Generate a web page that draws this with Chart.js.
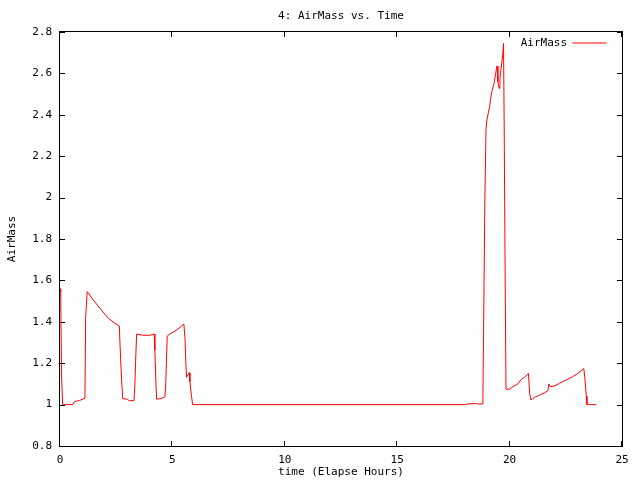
<!DOCTYPE html>
<html>
<head>
<meta charset="utf-8">
<script src="https://cdn.jsdelivr.net/npm/chart.js@4/dist/chart.umd.min.js"></script>
<style>
  html, body { margin: 0; padding: 0; background: #fff; }
  canvas { display: block; }
</style>
</head>
<body>
<canvas id="c" width="640" height="480"></canvas>
<script>
// ---- data ----
const timeHours = [
  0, 0.03, 0.07, 0.12, 0.56, 0.64, 0.86, 1.11, 1.14, 1.21, 1.30, 1.48, 1.78, 2.15, 2.44, 2.64,
  2.67, 2.74, 2.79, 2.99, 3.08, 3.29, 3.33, 3.38, 3.41, 3.67, 4.00, 4.19, 4.22, 4.27, 4.30,
  4.49, 4.67, 4.71, 4.77, 4.89, 5.19, 5.41, 5.51, 5.56, 5.60, 5.63, 5.75, 5.78, 5.85, 5.90,
  18.00, 18.15, 18.52, 18.59, 18.81, 18.84, 18.90, 18.95, 18.99, 19.05, 19.11, 19.16, 19.21,
  19.27, 19.32, 19.38, 19.41, 19.44, 19.48, 19.53, 19.57, 19.61, 19.66, 19.70, 19.73, 19.76,
  19.81, 19.84, 20.00, 20.15, 20.37, 20.52, 20.67, 20.84, 20.89, 20.95, 21.11, 21.33, 21.56,
  21.70, 21.75, 21.81, 22.00, 22.22, 22.52, 22.81, 23.04, 23.19, 23.30, 23.35, 23.41, 23.44, 23.85
];
const airMass = [
  1.56, 1.545, 1.13, 1.0, 1.0, 1.014, 1.02, 1.03, 1.42, 1.546, 1.534, 1.505, 1.465, 1.417, 1.393, 1.38,
  1.288, 1.119, 1.029, 1.026, 1.019, 1.019, 1.095, 1.259, 1.341, 1.335, 1.335, 1.341, 1.264, 1.095, 1.026,
  1.029, 1.038, 1.119, 1.331, 1.341, 1.36, 1.38, 1.389, 1.32, 1.2, 1.132, 1.154, 1.11, 1.04, 1.0,
  1.0, 1.003, 1.005, 1.003, 1.003, 1.331, 1.988, 2.33, 2.375, 2.407, 2.439, 2.48, 2.512,
  2.536, 2.56, 2.6, 2.62, 2.636, 2.56, 2.528, 2.576, 2.616, 2.657, 2.697, 2.745, 2.327,
  1.489, 1.074, 1.074, 1.087, 1.1, 1.122, 1.132, 1.151, 1.055, 1.022, 1.035, 1.046, 1.057,
  1.067, 1.1, 1.087, 1.09, 1.103, 1.119, 1.135, 1.151, 1.164, 1.174, 1.127, 1.042, 1.0, 1.0
];
const xTickValues = [0, 5, 10, 15, 20, 25];
const xTickLabels = ['0', '5', '10', '15', '20', '25'];
const yTickValues = [0.8, 1.0, 1.2, 1.4, 1.6, 1.8, 2.0, 2.2, 2.4, 2.6, 2.8];
const yTickLabels = ['0.8', '1', '1.2', '1.4', '1.6', '1.8', '2', '2.2', '2.4', '2.6', '2.8'];
const seriesName = 'AirMass';
const chartTitle = '4: AirMass vs. Time';
const xTitle = 'time (Elapse Hours)';
const yTitle = 'AirMass';

const FONT = { family: "'DejaVu Sans Mono', 'Liberation Mono', monospace", size: 11, weight: 'normal' };

const points = timeHours.map((t, i) => ({ x: t, y: airMass[i] }));

const framePlugin = {
  id: 'frame',
  beforeDatasetsDraw(chart) {
    const { ctx, chartArea: a, scales } = chart;
    const L = Math.round(a.left) - 1, R = Math.round(a.right);
    const T = Math.round(a.top) - 1, B = Math.round(a.bottom);
    const tl = 6;
    ctx.save();
    ctx.fillStyle = '#000';
    // frame
    ctx.fillRect(L, T, R - L + 1, 1);
    ctx.fillRect(L, B, R - L + 1, 1);
    ctx.fillRect(L, T, 1, B - T + 1);
    ctx.fillRect(R, T, 1, B - T + 1);
    // inward tick marks on all four sides
    for (let i = 0; i < xTickValues.length; i++) {
      const px = Math.round(scales.x.getPixelForValue(xTickValues[i])) - 1;
      ctx.fillRect(px, B - tl + 1, 1, tl);
      ctx.fillRect(px, T, 1, tl);
    }
    for (let i = 0; i < yTickValues.length; i++) {
      const py = Math.round(scales.y.getPixelForValue(yTickValues[i]));
      ctx.fillRect(L, py, tl, 1);
      ctx.fillRect(R - tl + 1, py, tl, 1);
    }
    ctx.restore();
  },
  afterLayout(chart) {
    const lg = chart.legend, a = chart.chartArea;
    if (lg) {
      // place the legend box inside the plot, at its top-right corner
      lg.top = a.top;
      lg.bottom = a.top + lg.height;
      lg.left = a.right - 10 - lg.width;
      lg.right = lg.left + lg.width;
    }
  }
};

new Chart(document.getElementById('c'), {
  type: 'line',
  data: {
    datasets: [{
      label: seriesName,
      data: points,
      borderColor: '#ff0000',
      backgroundColor: '#ff0000',
      borderWidth: 1,
      pointRadius: 0,
      pointStyle: 'line',
      tension: 0,
      fill: false
    }]
  },
  options: {
    responsive: false,
    devicePixelRatio: 1,
    animation: false,
    parsing: false,
    layout: { padding: { left: 0, right: 18, top: 0, bottom: 0 } },
    plugins: {
      title: {
        display: true,
        text: chartTitle,
        fullSize: false,
        color: '#000',
        font: FONT,
        padding: { top: 10, bottom: 8.8 }
      },
      legend: {
        display: true,
        position: 'chartArea',
        align: 'start',
        rtl: true,
        labels: {
          color: '#000',
          font: FONT,
          usePointStyle: true,
          pointStyle: 'line',
          pointStyleWidth: 34,
          padding: 5.5
        }
      },
      tooltip: { enabled: false }
    },
    scales: {
      x: {
        type: 'linear',
        min: 0, max: 25,
        afterBuildTicks: s => { s.ticks = xTickValues.map(v => ({ value: v })); },
        afterFit: s => { s.height = 34; },
        grid: { display: false, drawTicks: false },
        border: { display: false },
        ticks: {
          color: '#000', font: FONT, padding: 8, maxRotation: 0,
          callback: (v, i) => xTickLabels[i]
        },
        title: { display: true, text: xTitle, color: '#000', font: FONT, padding: { top: 0, bottom: 1.4 } }
      },
      y: {
        type: 'linear',
        min: 0.8, max: 2.8,
        afterBuildTicks: s => { s.ticks = yTickValues.map(v => ({ value: v })); },
        afterFit: s => { s.width = 60; },
        grid: { display: false, drawTicks: false },
        border: { display: false },
        ticks: {
          color: '#000', font: FONT, padding: 8,
          callback: (v, i) => yTickLabels[i]
        },
        title: { display: true, text: yTitle, color: '#000', font: FONT, padding: { top: 5.4, bottom: 0 } }
      }
    }
  },
  plugins: [framePlugin]
});
</script>
</body>
</html>
